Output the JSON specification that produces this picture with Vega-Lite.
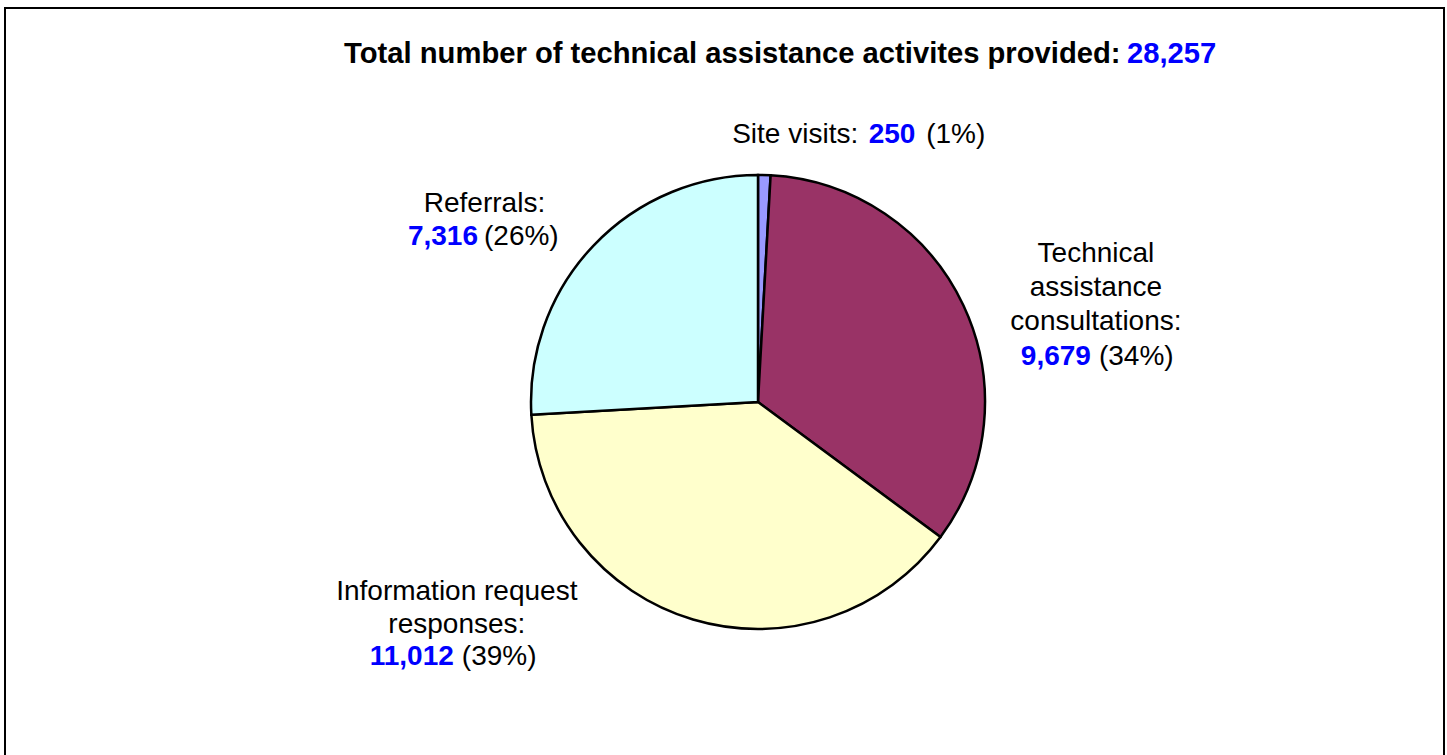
{
  "$schema": "https://vega.github.io/schema/vega-lite/v6.json",
  "autosize": {"type": "none"},
  "width": 1439,
  "height": 750,
  "padding": {"left": 5, "top": 8, "right": 3, "bottom": -3},
  "background": "white",
  "view": {"stroke": "black", "strokeWidth": 2, "fill": "white"},
  "config": {"view": {"stroke": "black", "strokeWidth": 2}},
  "layer": [
    {
      "data": {"name": "slices", "values": [
        {"cat": "Site visits", "value": 250, "ord": 1, "lab": "Site visits:", "head": "", "num": "250", "pct": "(1%)"},
        {"cat": "Technical assistance consultations", "value": 9679, "ord": 2, "lab": "", "head": ["Technical", "assistance", "consultations:"], "num": "9,679", "pct": "(34%)"},
        {"cat": "Information request responses", "value": 11012, "ord": 3, "lab": "", "head": ["Information request", "responses:"], "num": "11,012", "pct": "(39%)"},
        {"cat": "Referrals", "value": 7316, "ord": 4, "lab": "", "head": ["Referrals:"], "num": "7,316", "pct": "(26%)"}
      ]},
      "encoding": {
        "theta": {"field": "value", "type": "quantitative", "stack": true},
        "order": {"field": "ord", "type": "quantitative"},
        "detail": {"field": "cat", "type": "nominal"}
      },
      "layer": [
        {
          "mark": {"type": "arc", "outerRadius": 227, "stroke": "black", "strokeWidth": 2.5, "x": {"expr": "width/2 + 33.5"}, "y": {"expr": "height/2 + 19"}},
          "encoding": {
            "color": {"field": "cat", "type": "nominal", "legend": null,
              "scale": {"domain": ["Site visits", "Technical assistance consultations", "Information request responses", "Referrals"],
                        "range": ["#9999FF", "#993366", "#FFFFCC", "#CCFFFF"]}}
          }
        },
        {
          "mark": {"type": "text", "radius": 260, "x": {"expr": "width/2 + 33.5"}, "y": {"expr": "height/2 + 19"}, "font": "Liberation Sans", "fontSize": 28, "color": "black", "align": "right", "baseline": "alphabetic", "dx": 93, "dy": 1},
          "encoding": {"text": {"condition": {"test": "datum.cat === 'Site visits'", "field": "lab"}, "value": ""}}
        },
        {
          "mark": {"type": "text", "radius": 260, "x": {"expr": "width/2 + 33.5"}, "y": {"expr": "height/2 + 19"}, "font": "Liberation Sans", "fontSize": 28, "fontWeight": "bold", "color": "#0000FF", "align": "left", "baseline": "alphabetic", "dx": 103.5, "dy": 1},
          "encoding": {"text": {"condition": {"test": "datum.cat === 'Site visits'", "field": "num"}, "value": ""}}
        },
        {
          "mark": {"type": "text", "radius": 260, "x": {"expr": "width/2 + 33.5"}, "y": {"expr": "height/2 + 19"}, "font": "Liberation Sans", "fontSize": 28, "color": "black", "align": "left", "baseline": "alphabetic", "dx": 161, "dy": 1},
          "encoding": {"text": {"condition": {"test": "datum.cat === 'Site visits'", "field": "pct"}, "value": ""}}
        },
        {
          "mark": {"type": "text", "radius": 260, "x": {"expr": "width/2 + 33.5"}, "y": {"expr": "height/2 + 19"}, "font": "Liberation Sans", "fontSize": 28, "color": "black", "align": "center", "baseline": "alphabetic", "lineHeight": 34, "dx": 102.6, "dy": -29.5},
          "encoding": {"text": {"condition": {"test": "datum.cat === 'Technical assistance consultations'", "field": "head"}, "value": ""}}
        },
        {
          "mark": {"type": "text", "radius": 260, "x": {"expr": "width/2 + 33.5"}, "y": {"expr": "height/2 + 19"}, "font": "Liberation Sans", "fontSize": 28, "fontWeight": "bold", "color": "#0000FF", "align": "right", "baseline": "alphabetic", "dx": 97.6, "dy": 73.5},
          "encoding": {"text": {"condition": {"test": "datum.cat === 'Technical assistance consultations'", "field": "num"}, "value": ""}}
        },
        {
          "mark": {"type": "text", "radius": 260, "x": {"expr": "width/2 + 33.5"}, "y": {"expr": "height/2 + 19"}, "font": "Liberation Sans", "fontSize": 28, "color": "black", "align": "left", "baseline": "alphabetic", "dx": 105.6, "dy": 73.5},
          "encoding": {"text": {"condition": {"test": "datum.cat === 'Technical assistance consultations'", "field": "pct"}, "value": ""}}
        },
        {
          "mark": {"type": "text", "radius": 260, "x": {"expr": "width/2 + 33.5"}, "y": {"expr": "height/2 + 19"}, "font": "Liberation Sans", "fontSize": 28, "color": "black", "align": "center", "baseline": "alphabetic", "lineHeight": 33, "dx": -226.7, "dy": -51.2},
          "encoding": {"text": {"condition": {"test": "datum.cat === 'Information request responses'", "field": "head"}, "value": ""}}
        },
        {
          "mark": {"type": "text", "radius": 260, "x": {"expr": "width/2 + 33.5"}, "y": {"expr": "height/2 + 19"}, "font": "Liberation Sans", "fontSize": 28, "fontWeight": "bold", "color": "#0000FF", "align": "right", "baseline": "alphabetic", "dx": -229.7, "dy": 13.8},
          "encoding": {"text": {"condition": {"test": "datum.cat === 'Information request responses'", "field": "num"}, "value": ""}}
        },
        {
          "mark": {"type": "text", "radius": 260, "x": {"expr": "width/2 + 33.5"}, "y": {"expr": "height/2 + 19"}, "font": "Liberation Sans", "fontSize": 28, "color": "black", "align": "left", "baseline": "alphabetic", "dx": -221.7, "dy": 13.8},
          "encoding": {"text": {"condition": {"test": "datum.cat === 'Information request responses'", "field": "pct"}, "value": ""}}
        },
        {
          "mark": {"type": "text", "radius": 260, "x": {"expr": "width/2 + 33.5"}, "y": {"expr": "height/2 + 19"}, "font": "Liberation Sans", "fontSize": 28, "color": "black", "align": "center", "baseline": "alphabetic", "lineHeight": 33, "dx": -84.6, "dy": -11.4},
          "encoding": {"text": {"condition": {"test": "datum.cat === 'Referrals'", "field": "head"}, "value": ""}}
        },
        {
          "mark": {"type": "text", "radius": 260, "x": {"expr": "width/2 + 33.5"}, "y": {"expr": "height/2 + 19"}, "font": "Liberation Sans", "fontSize": 28, "fontWeight": "bold", "color": "#0000FF", "align": "right", "baseline": "alphabetic", "dx": -91.1, "dy": 21.6},
          "encoding": {"text": {"condition": {"test": "datum.cat === 'Referrals'", "field": "num"}, "value": ""}}
        },
        {
          "mark": {"type": "text", "radius": 260, "x": {"expr": "width/2 + 33.5"}, "y": {"expr": "height/2 + 19"}, "font": "Liberation Sans", "fontSize": 28, "color": "black", "align": "left", "baseline": "alphabetic", "dx": -85.1, "dy": 21.6},
          "encoding": {"text": {"condition": {"test": "datum.cat === 'Referrals'", "field": "pct"}, "value": ""}}
        }
      ]
    },
    {
      "data": {"name": "titles", "values": [
        {"label": "Total number of technical assistance activites provided:", "total": "28,257"}
      ]},
      "layer": [
        {
          "mark": {"type": "text", "x": {"expr": "width/2 + 396"}, "y": 55, "font": "Liberation Sans", "fontSize": 29.2, "fontWeight": "bold", "color": "black", "align": "right", "baseline": "alphabetic"},
          "encoding": {"text": {"field": "label", "type": "nominal"}}
        },
        {
          "mark": {"type": "text", "x": {"expr": "width/2 + 402.5"}, "y": 55, "font": "Liberation Sans", "fontSize": 29.2, "fontWeight": "bold", "color": "#0000FF", "align": "left", "baseline": "alphabetic"},
          "encoding": {"text": {"field": "total", "type": "nominal"}}
        }
      ]
    }
  ]
}
